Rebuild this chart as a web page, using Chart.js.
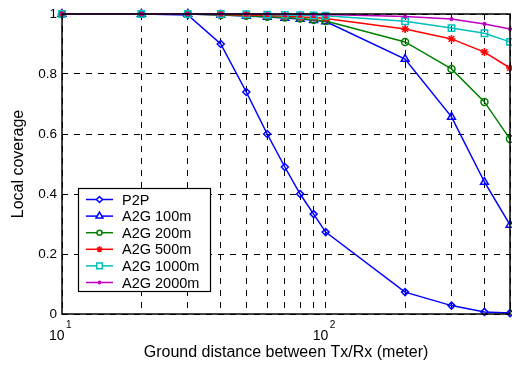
<!DOCTYPE html>
<html>
<head>
<meta charset="utf-8">
<script src="https://cdn.jsdelivr.net/npm/chart.js@4"></script>
<style>
  html, body { margin: 0; padding: 0; background: #fff; }
  #wrap { width: 512px; height: 368px; }
</style>
</head>
<body>
<div id="wrap"><canvas id="c"></canvas></div>
<script>
const FONT = "'Liberation Sans', Arial, Helvetica, sans-serif";

// ground distance (m)
const distances = [10, 20, 30, 40, 50, 60, 70, 80, 90, 100, 200, 300, 400, 500];

const p2p     = [1, 1, 0.997, 0.90, 0.74, 0.60, 0.49, 0.40, 0.333, 0.273, 0.073, 0.028, 0.007, 0.003];
const a2g100  = [1, 1, 1, 0.997, 0.993, 0.99, 0.987, 0.983, 0.979, 0.975, 0.85, 0.657, 0.44, 0.297];
const a2g200  = [1, 1, 1, 0.997, 0.994, 0.991, 0.988, 0.985, 0.981, 0.977, 0.907, 0.817, 0.707, 0.583];
const a2g500  = [1, 1, 1, 0.998, 0.997, 0.995, 0.993, 0.99, 0.988, 0.985, 0.95, 0.917, 0.873, 0.82];
const a2g1000 = [1, 1, 1, 1, 0.999, 0.998, 0.997, 0.996, 0.995, 0.994, 0.976, 0.953, 0.936, 0.907];
const a2g2000 = [1, 1, 1, 1, 1, 1, 0.999, 0.999, 0.998, 0.998, 0.992, 0.983, 0.967, 0.95];

const seriesNames = ['P2P', 'A2G 100m', 'A2G 200m', 'A2G 500m', 'A2G 1000m', 'A2G 2000m'];
const xGridTicks = [10, 20, 30, 40, 50, 60, 70, 80, 90, 100, 200, 300, 400, 500];
const xMajorTicks = [10, 100];
const xMajorExp = ['1', '2'];

const series = [
    { l: seriesNames[0], d: p2p,     c: '#0000ff', ps: 'rectRot',  r: 3.5, lr: 3 },
    { l: seriesNames[1], d: a2g100,  c: '#0000ff', ps: 'triangle', r: 4.5, lr: 4 },
    { l: seriesNames[2], d: a2g200,  c: '#008000', ps: 'circle',   r: 3.5, lr: 2.5 },
    { l: seriesNames[3], d: a2g500,  c: '#ff0000', ps: 'star',     r: 4,   lr: 3 },
    { l: seriesNames[4], d: a2g1000, c: '#00bfbf', ps: 'rect',     r: 4.5, lr: 4 },
    { l: seriesNames[5], d: a2g2000, c: '#bf00bf', ps: 'circle',   r: 1.3, lr: 1.2, filled: true }
];

// frame, 10^n labels and legend box
const matlabLook = {
    id: 'matlabLook',
    afterDraw(chart) {
        const { ctx, chartArea: a, scales } = chart;
        ctx.save();
        ctx.strokeStyle = '#000';
        ctx.lineWidth = 1.5;
        ctx.setLineDash([]);
        ctx.strokeRect(a.left, a.top, a.right - a.left, a.bottom - a.top);

        // x tick labels with exponent
        ctx.fillStyle = '#000';
        ctx.textBaseline = 'alphabetic';
        ctx.textAlign = 'left';
        xMajorTicks.forEach((v, i) => {
            const px = scales.x.getPixelForValue(v);
            ctx.font = '14px ' + FONT;
            ctx.fillText('10', px - 13, 340);
            ctx.font = '10px ' + FONT;
            ctx.fillText(xMajorExp[i], px + 4, 328);
        });

        // legend
        const lx = 78.5, ly = 188.5, lw = 132, lh = 103;
        ctx.fillStyle = '#fff';
        ctx.fillRect(lx, ly, lw, lh);
        ctx.lineWidth = 1.2;
        ctx.strokeStyle = '#000';
        ctx.strokeRect(lx, ly, lw, lh);
        ctx.font = '14.5px ' + FONT;
        ctx.textBaseline = 'middle';
        series.forEach((s, i) => {
            const y = 199.5 + i * 16.6;
            ctx.strokeStyle = s.c;
            ctx.lineWidth = 1.5;
            ctx.beginPath();
            ctx.moveTo(86, y);
            ctx.lineTo(113, y);
            ctx.stroke();
            ctx.fillStyle = s.filled ? s.c : '#fff';
            Chart.helpers.drawPoint(ctx, { pointStyle: s.ps, radius: s.lr, rotation: 0, borderWidth: 1.5 }, 99.5, y);
            ctx.fillStyle = '#000';
            ctx.fillText(s.l, 122, y + 1);
        });
        ctx.restore();
    }
};

new Chart(document.getElementById('c'), {
    type: 'line',
    data: {
        datasets: series.map((s, i) => ({
            label: s.l,
            data: distances.map((x, k) => ({ x: x, y: s.d[k] })),
            borderColor: s.c,
            backgroundColor: s.c,
            pointStyle: s.ps,
            pointRadius: s.r,
            pointBorderWidth: 1.5,
            pointBackgroundColor: s.filled ? s.c : 'rgba(0,0,0,0)',
            borderWidth: 1.5,
            tension: 0,
            fill: false,
            clip: false,
            order: series.length - i
        }))
    },
    options: {
        responsive: true,
        maintainAspectRatio: false,
        animation: false,
        events: [],
        // no extra room for the markers, the plot box must reach x=510
        layout: { autoPadding: false, padding: { top: 14, right: 2, left: 0, bottom: 0 } },
        plugins: { legend: { display: false }, tooltip: { enabled: false } },
        scales: {
            x: {
                type: 'logarithmic',
                min: 10,
                max: 500,
                bounds: 'data',
                afterFit: (s) => { s.height = 54; s.paddingLeft = 0; s.paddingRight = 0; },
                afterBuildTicks: (s) => { s.ticks = xGridTicks.map(v => ({ value: v })); },
                ticks: { autoSkip: false, maxRotation: 0, callback: () => '' },
                grid: { color: '#000', lineWidth: 1, drawTicks: false },
                border: { display: false, dash: [6, 6] },
                title: {
                    display: true,
                    text: 'Ground distance between Tx/Rx (meter)',
                    color: '#000',
                    font: { family: FONT, size: 16 },
                    padding: { top: 0, bottom: 6 }
                }
            },
            y: {
                min: 0,
                max: 1,
                afterFit: (s) => { s.width = 62; },
                ticks: {
                    stepSize: 0.2,
                    color: '#000',
                    padding: 5,
                    font: { family: FONT, size: 13.5 },
                    callback: (v) => String(+v.toFixed(1))
                },
                grid: { color: '#000', lineWidth: 1, drawTicks: false },
                border: { display: false, dash: [6, 6] },
                title: {
                    display: true,
                    text: 'Local coverage',
                    color: '#000',
                    font: { family: FONT, size: 16 },
                    padding: { top: 9, bottom: 0 }
                }
            }
        }
    },
    plugins: [matlabLook]
});
</script>
</body>
</html>
